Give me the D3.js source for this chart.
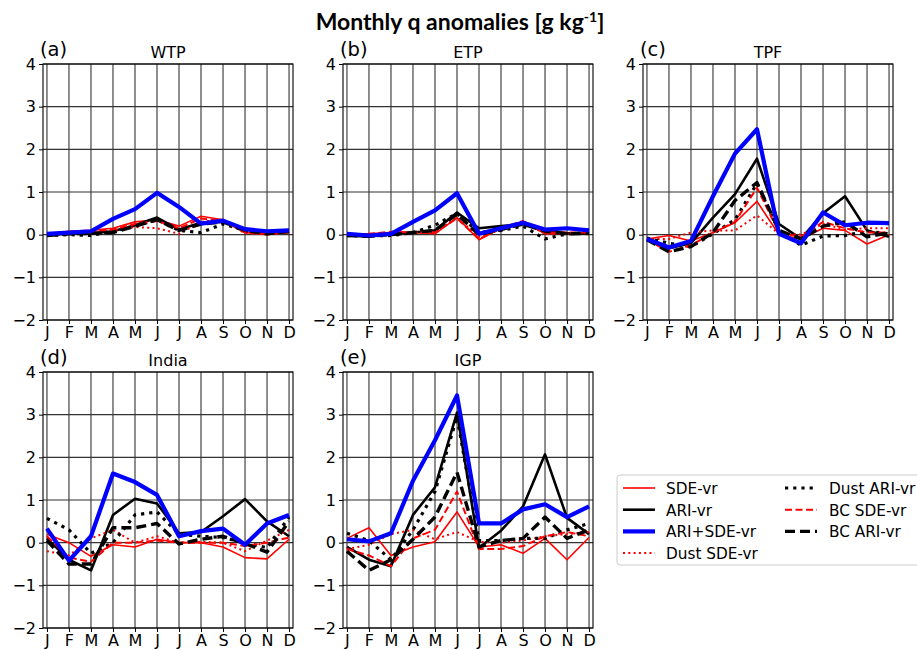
<!DOCTYPE html>
<html><head><meta charset="utf-8">
<script src="https://cdnjs.cloudflare.com/ajax/libs/d3/7.8.5/d3.min.js"></script>
<style>body{margin:0;background:#fff}svg{display:block}</style>
</head><body>
<svg id="c" width="917" height="650"></svg>
<script>
const months = ["J","F","M","A","M","J","J","A","S","O","N","D"];
const yTicks = [-2,-1,0,1,2,3,4];
const regions = ["WTP","ETP","TPF","India","IGP"];
const panelLabels = ["(a)","(b)","(c)","(d)","(e)"];
const seriesNames = ["SDE-vr","ARI-vr","ARI+SDE-vr","Dust SDE-vr","Dust ARI-vr","BC SDE-vr","BC ARI-vr"];

// values per region, per series (order of seriesNames)
const WTP = [
  [0.02,0.08,0.10,0.15,0.30,0.35,0.20,0.43,0.35,0.05,0.00,0.05],
  [0.00,0.02,0.03,0.08,0.22,0.40,0.12,0.28,0.30,0.12,0.03,0.07],
  [0.02,0.05,0.08,0.37,0.60,0.98,0.65,0.26,0.33,0.13,0.08,0.10],
  [0.00,0.02,0.05,0.10,0.18,0.15,0.02,0.30,0.35,0.03,0.02,0.05],
  [-0.02,0.00,-0.02,0.08,0.20,0.35,0.10,0.05,0.25,0.10,0.03,0.08],
  [0.02,0.05,0.08,0.12,0.25,0.32,0.15,0.38,0.32,0.05,0.02,0.05],
  [-0.02,0.02,0.03,0.05,0.20,0.35,0.10,0.25,0.30,0.10,0.02,0.08]
];
const ETP = [
  [0.00,0.02,0.05,0.05,0.02,0.40,-0.12,0.15,0.30,0.02,0.02,0.05],
  [-0.02,-0.05,0.02,0.05,0.10,0.52,0.15,0.20,0.25,0.10,0.03,0.03],
  [0.02,-0.02,0.02,0.30,0.57,0.97,0.02,0.15,0.28,0.12,0.15,0.10],
  [0.00,0.00,0.03,0.05,0.05,0.40,-0.05,0.12,0.30,0.02,0.02,0.05],
  [-0.02,-0.03,-0.02,0.05,0.22,0.50,0.05,0.10,0.20,-0.10,0.02,0.05],
  [0.00,0.02,0.07,0.05,0.05,0.38,-0.10,0.15,0.32,0.05,0.05,0.05],
  [-0.02,-0.03,0.00,0.05,0.10,0.48,0.00,0.12,0.25,0.08,0.02,0.03]
];
const TPF = [
  [-0.10,-0.02,-0.15,0.05,0.28,0.78,0.00,-0.10,0.15,0.10,-0.22,0.00],
  [-0.12,-0.32,-0.20,0.40,0.95,1.78,0.25,-0.10,0.50,0.90,0.10,-0.05],
  [-0.10,-0.30,-0.15,0.90,1.90,2.47,0.02,-0.20,0.52,0.22,0.28,0.27],
  [-0.10,-0.10,0.05,0.10,0.10,0.45,0.02,0.00,0.25,0.12,0.15,0.15],
  [-0.08,-0.20,-0.28,0.02,0.35,1.20,0.08,-0.25,-0.03,-0.02,0.08,0.02],
  [-0.12,-0.40,-0.25,0.05,0.30,1.10,0.05,-0.05,0.30,0.15,0.05,0.05],
  [-0.12,-0.40,-0.28,0.05,0.80,1.22,0.10,-0.10,0.20,0.30,-0.05,0.05]
];
const India = [
  [0.20,0.00,-0.32,-0.05,-0.10,0.08,0.00,0.00,-0.10,-0.35,-0.38,0.08],
  [0.10,-0.40,-0.65,0.65,1.03,0.92,0.22,0.25,0.62,1.02,0.50,0.15],
  [0.33,-0.42,0.15,1.62,1.42,1.12,0.15,0.27,0.33,-0.05,0.45,0.65],
  [-0.20,-0.30,0.10,0.30,0.00,0.15,0.00,0.02,0.00,-0.20,0.05,0.30],
  [0.57,0.30,-0.25,0.00,0.65,0.72,0.20,0.15,0.12,0.00,-0.12,0.60],
  [0.15,-0.35,-0.45,0.00,0.00,0.05,0.00,0.00,0.00,-0.08,0.00,0.12],
  [0.05,-0.50,-0.50,0.35,0.35,0.45,-0.03,0.08,0.15,-0.02,-0.22,0.50]
];
const IGP = [
  [0.10,0.35,-0.30,-0.10,0.02,0.72,-0.10,-0.05,-0.25,0.10,-0.40,0.12],
  [-0.10,-0.40,-0.55,0.65,1.30,3.05,-0.12,0.28,0.85,2.07,0.58,0.20],
  [0.08,0.03,0.22,1.45,2.40,3.45,0.45,0.45,0.78,0.90,0.60,0.85],
  [-0.15,-0.05,0.20,0.30,0.08,0.25,0.02,0.00,0.05,0.15,0.20,0.25],
  [0.22,0.05,-0.40,0.30,1.20,2.95,0.05,0.05,0.10,0.10,0.30,0.45],
  [-0.15,-0.30,-0.55,0.10,0.30,1.20,-0.15,-0.15,-0.08,0.15,0.25,0.15],
  [-0.20,-0.65,-0.40,0.08,0.60,1.65,-0.10,0.05,0.10,0.60,0.10,0.30]
];
const regionData = [WTP, ETP, TPF, India, IGP];

const styles = [
  {color:"#ff0000", width:1.6, dash:null},
  {color:"#000000", width:2.6, dash:null},
  {color:"#0000ff", width:4.2, dash:null},
  {color:"#ff0000", width:2.0, dash:"2,3.3"},
  {color:"#000000", width:3.2, dash:"3.2,5"},
  {color:"#ff0000", width:2.0, dash:"7,3.5"},
  {color:"#000000", width:3.4, dash:"10,5"}
];
const drawOrder = [0,1,3,4,5,6,2];

const svg = d3.select("#c");
svg.append("text").attr("x",460).attr("y",30).attr("text-anchor","middle")
  .style("font-family","Lato,'Open Sans',sans-serif").style("font-weight","bold").style("font-size","23px")
  .html('Monthly q anomalies [g kg<tspan dy="-8" font-size="14">-1</tspan><tspan dy="8">]</tspan>');

const panels = [
  {x0:43,x1:293,y0:64,y1:320},
  {x0:343,x1:593,y0:64,y1:320},
  {x0:643,x1:893,y0:64,y1:320},
  {x0:43,x1:293,y0:372,y1:628},
  {x0:343,x1:593,y0:372,y1:628}
];
const font = "'DejaVu Sans',sans-serif";

panels.forEach((p,i)=>{
  const x = d3.scaleLinear().domain([-0.18,11.18]).range([p.x0,p.x1]);
  const y = d3.scaleLinear().domain([-2,4]).range([p.y1,p.y0]);
  const g = svg.append("g");
  // grid
  g.selectAll(".vg").data(d3.range(12)).join("line")
    .attr("x1",d=>x(d)).attr("x2",d=>x(d)).attr("y1",p.y0).attr("y2",p.y1)
    .attr("stroke","#333").attr("stroke-width",1.1);
  g.selectAll(".hg").data(yTicks).join("line")
    .attr("x1",p.x0).attr("x2",p.x1).attr("y1",d=>y(d)).attr("y2",d=>y(d))
    .attr("stroke","#333").attr("stroke-width",1.1);
  // axes
  const ax = g.append("g").attr("transform",`translate(0,${p.y1})`)
    .call(d3.axisBottom(x).tickValues(d3.range(12)).tickFormat(d=>months[d]).tickSizeOuter(0).tickSize(4).tickPadding(3));
  const ay = g.append("g").attr("transform",`translate(${p.x0},0)`)
    .call(d3.axisLeft(y).tickValues(yTicks).tickFormat(d3.format("d")).tickSizeOuter(0).tickSize(4).tickPadding(3));
  [ax,ay].forEach(a=>{
    a.select(".domain").remove();
    a.selectAll("line").attr("stroke","#000").attr("stroke-width",1);
    a.selectAll("text").style("font-family",font).style("font-size","16px").attr("fill","#000");
  });
  ay.selectAll("text").text(d=>d<0?"\u2212"+Math.abs(d):d);
  // lines
  const line = d3.line().x((d,j)=>x(j)).y(d=>y(d));
  const clip = "clip"+i;
  svg.append("clipPath").attr("id",clip).append("rect").attr("x",p.x0).attr("y",p.y0).attr("width",p.x1-p.x0).attr("height",p.y1-p.y0);
  const lg = g.append("g").attr("clip-path",`url(#${clip})`);
  drawOrder.forEach(k=>{
    const s = styles[k];
    lg.append("path").datum(regionData[i][k]).attr("d",line)
      .attr("fill","none").attr("stroke",s.color).attr("stroke-width",s.width)
      .attr("stroke-dasharray",s.dash).attr("stroke-linejoin","round");
  });
  // frame
  g.append("rect").attr("x",p.x0).attr("y",p.y0).attr("width",p.x1-p.x0).attr("height",p.y1-p.y0)
    .attr("fill","none").attr("stroke","#000").attr("stroke-width",1.1);
  // labels
  g.append("text").attr("x",p.x0-3).attr("y",p.y0-8).text(panelLabels[i])
    .style("font-family",font).style("font-size","19.5px");
  g.append("text").attr("x",(p.x0+p.x1)/2).attr("y",p.y0-6).attr("text-anchor","middle").text(regions[i])
    .style("font-family",font).style("font-size","16px");
});

// legend
const lgd = svg.append("g");
lgd.append("rect").attr("x",617).attr("y",475).attr("width",320).attr("height",90).attr("rx",3)
  .attr("fill","#fff").attr("stroke","#ccc").attr("stroke-width",1);
const legPos = [[0,0],[0,1],[0,2],[0,3],[1,0],[1,1],[1,2]];
seriesNames.forEach((n,k)=>{
  const [c,r] = legPos[k];
  const lx = c===0?623:785, tx = c===0?666:829, ly = 488+r*21.7;
  const s = styles[k];
  lgd.append("line").attr("x1",lx).attr("x2",lx+32).attr("y1",ly).attr("y2",ly)
    .attr("stroke",s.color).attr("stroke-width",s.width).attr("stroke-dasharray",s.dash);
  lgd.append("text").attr("x",tx).attr("y",ly+6).text(n).style("font-family",font).style("font-size","15.3px");
});
</script>
</body></html>
